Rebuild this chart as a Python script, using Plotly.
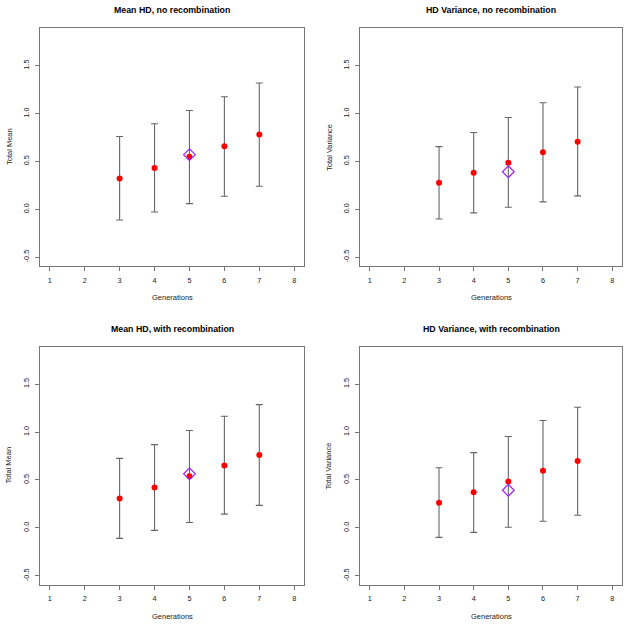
import plotly.graph_objects as go

generations = [3, 4, 5, 6, 7]

titles = ["Mean HD, no recombination", "HD Variance, no recombination",
          "Mean HD, with recombination", "HD Variance, with recombination"]
ylabels = ["Total Mean", "Total Variance", "Total Mean", "Total Variance"]

# panel 1: Mean HD, no recombination
mean_norec = [0.322, 0.430, 0.549, 0.657, 0.780]
lower_mean_norec = [-0.112, -0.028, 0.059, 0.136, 0.241]
upper_mean_norec = [0.759, 0.892, 1.031, 1.175, 1.318]
obs_mean_norec = 0.570

# panel 2: HD Variance, no recombination
var_norec = [0.276, 0.381, 0.486, 0.594, 0.706]
lower_var_norec = [-0.101, -0.038, 0.021, 0.077, 0.140]
upper_var_norec = [0.654, 0.801, 0.958, 1.112, 1.276]
obs_var_norec = 0.392

# panel 3: Mean HD, with recombination
mean_rec = [0.308, 0.421, 0.540, 0.652, 0.761]
lower_mean_rec = [-0.109, -0.025, 0.056, 0.144, 0.235]
upper_mean_rec = [0.725, 0.869, 1.016, 1.164, 1.286]
obs_mean_rec = 0.564

# panel 4: HD Variance, with recombination
var_rec = [0.263, 0.372, 0.484, 0.596, 0.697]
lower_var_rec = [-0.098, -0.046, 0.007, 0.070, 0.133]
upper_var_rec = [0.627, 0.785, 0.953, 1.121, 1.258]
obs_var_rec = 0.393

obs_generation = 5

x_ticks = [1, 2, 3, 4, 5, 6, 7, 8]
y_ticks = [-0.5, 0.0, 0.5, 1.0, 1.5]
y_ticktext = ["-0.5", "0.0", "0.5", "1.0", "1.5"]

panels = [
    (mean_norec, lower_mean_norec, upper_mean_norec, obs_mean_norec),
    (var_norec, lower_var_norec, upper_var_norec, obs_var_norec),
    (mean_rec, lower_mean_rec, upper_mean_rec, obs_mean_rec),
    (var_rec, lower_var_rec, upper_var_rec, obs_var_rec),
]

W, H = 631, 626
# plot boxes in pixels: (left, right, top, bottom)
boxes = [(40, 304, 28, 266), (360, 622, 28, 266),
         (40, 304, 346.5, 584.7), (360, 622, 346.5, 584.7)]

FONT = "Liberation Sans, Arial, Helvetica, sans-serif"
fig = go.Figure()
annotations = []

for i, ((m, lo, up, obs), (l, r, t, b)) in enumerate(zip(panels, boxes)):
    n = "" if i == 0 else str(i + 1)
    xa, ya = "x" + n, "y" + n
    plus = [u - v for u, v in zip(up, m)]
    minus = [v - d for v, d in zip(m, lo)]
    fig.add_trace(go.Scatter(
        x=generations, y=m, xaxis=xa, yaxis=ya, mode="markers",
        marker=dict(color="rgba(0,0,0,0)", size=1),
        error_y=dict(type="data", symmetric=False, array=plus, arrayminus=minus,
                     color="#666666", thickness=1.1, width=3.5),
        showlegend=False, hoverinfo="skip"))
    fig.add_trace(go.Scatter(
        x=generations, y=m, xaxis=xa, yaxis=ya, mode="markers",
        marker=dict(color="#ff0000", size=6, line=dict(width=0)),
        showlegend=False))
    fig.add_trace(go.Scatter(
        x=[obs_generation], y=[obs], xaxis=xa, yaxis=ya, mode="markers",
        marker=dict(symbol="diamond-open", color="#a020f0", size=9,
                    line=dict(width=1.2, color="#a020f0")),
        showlegend=False))

    axis_common = dict(showline=True, linecolor="#777777", linewidth=1, mirror=True,
                       ticks="outside", ticklen=4, tickcolor="#777777", tickwidth=1,
                       showgrid=False, zeroline=False, ticklabelstandoff=3,
                       tickfont=dict(family=FONT, size=7.3, color="#222222"))
    fig.update_layout(**{
        ("xaxis" + n): dict(domain=[l / W, r / W], anchor=ya,
                            range=[0.72, 8.28], tickvals=x_ticks, **axis_common),
        ("yaxis" + n): dict(domain=[1 - b / H, 1 - t / H], anchor=xa,
                            range=[-0.592, 1.892], tickvals=y_ticks, ticktext=y_ticktext,
                            tickangle=-90, **axis_common),
    })
    cx = (l + r) / 2
    annotations.append(dict(text="<b>" + titles[i] + "</b>", x=cx / W, y=1 - (t - 17.5) / H,
                            xref="paper", yref="paper", showarrow=False,
                            font=dict(family=FONT, size=8.8, color="#000000"),
                            xanchor="center", yanchor="middle"))
    annotations.append(dict(text="Generations", x=cx / W, y=1 - (b + 31.5) / H,
                            xref="paper", yref="paper", showarrow=False,
                            font=dict(family=FONT, size=7.5, color="#222222"),
                            xanchor="center", yanchor="middle"))
    annotations.append(dict(text=ylabels[i], x=(l - 31) / W, y=1 - ((t + b) / 2) / H,
                            xref="paper", yref="paper", showarrow=False, textangle=-90,
                            font=dict(family=FONT, size=7.5, color="#222222"),
                            xanchor="center", yanchor="middle"))

fig.update_layout(width=W, height=H, margin=dict(l=0, r=0, t=0, b=0),
                  paper_bgcolor="white", plot_bgcolor="white",
                  annotations=annotations)

fig.write_html("out.html", config={"displayModeBar": False},
               post_script="document.body.style.margin='0';document.body.style.overflow='hidden';")
